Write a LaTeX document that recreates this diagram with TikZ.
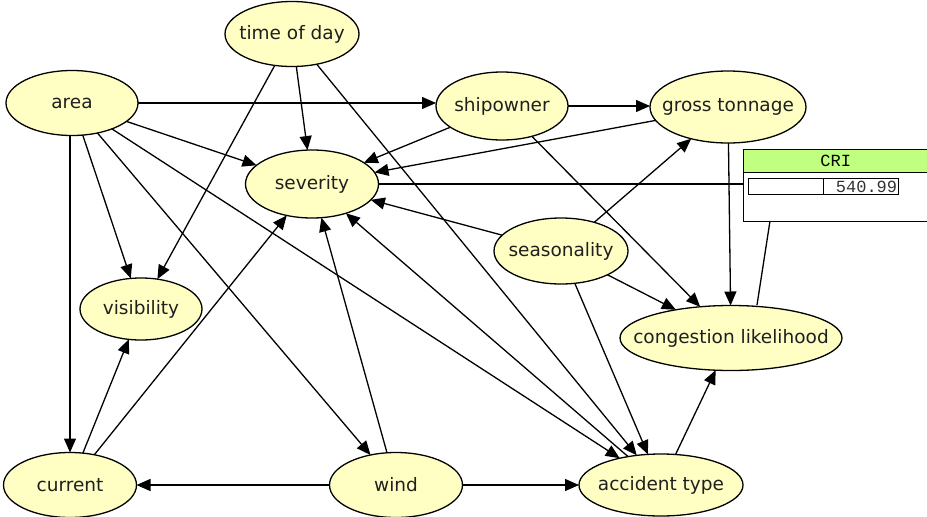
\documentclass[tikz,border=0pt]{standalone}
\usepackage{fontspec}
\setmainfont{DejaVu Sans}
\newfontfamily\crimono{Liberation Mono}
\usetikzlibrary{shapes.geometric,arrows.meta}
\definecolor{nodefill}{RGB}{255,255,196}
\definecolor{crigreen}{RGB}{192,255,128}
\newcommand\nodetxt[1]{\makebox[0pt]{\raisebox{-2pt}{#1}}}
\tikzset{
  bn/.style={ellipse,draw=black,line width=1.3pt,fill=nodefill,inner sep=0pt,outer sep=0pt,
     font=\fontsize{18.5}{19}\selectfont,text=black!88},
  arr/.style={-{Triangle[length=14pt,width=12pt]},line width=1.3pt},
  lnk/.style={line width=1.3pt},
}
\begin{document}
\begin{tikzpicture}[x=1pt,y=-1pt]
\useasboundingbox (0,0) rectangle (927,517);
% nodes
\node[bn,minimum width=134pt,minimum height=65pt] (tod) at (292,34) {\nodetxt{time of day}};
\node[bn,minimum width=132pt,minimum height=65pt] (area) at (72,103) {\nodetxt{area}};
\node[bn,minimum width=133pt,minimum height=68pt] (sev) at (312,184) {\nodetxt{severity}};
\node[bn,minimum width=132pt,minimum height=68pt] (ship) at (502,106) {\nodetxt{shipowner}};
\node[bn,minimum width=156pt,minimum height=72pt] (gross) at (728,107) {\nodetxt{gross tonnage}};
\node[bn,minimum width=134pt,minimum height=66pt] (season) at (561,251) {\nodetxt{seasonality}};
\node[bn,minimum width=222pt,minimum height=65pt] (cong) at (731,338) {\nodetxt{congestion likelihood}};
\node[bn,minimum width=122pt,minimum height=62pt] (vis) at (141,309) {\nodetxt{visibility}};
\node[bn,minimum width=133pt,minimum height=65pt] (cur) at (70,485) {\nodetxt{current}};
\node[bn,minimum width=133pt,minimum height=65pt] (wind) at (396,485) {\nodetxt{wind}};
\node[bn,minimum width=164pt,minimum height=62pt] (acc) at (661,485) {\nodetxt{accident type}};
% CRI monitor box
\node[draw=black,line width=1.3pt,fill=white,minimum width=184pt,minimum height=72pt,
      inner sep=0pt,anchor=north west] (cri) at (743,149) {};
\node[draw=black,line width=1.3pt,fill=crigreen,minimum width=184pt,minimum height=23pt,
      inner sep=0pt,anchor=north west,font=\crimono\fontsize{17}{18}\selectfont] (crih) at (743,149) {CRI};
\node[draw=black,line width=1.3pt,fill=white,minimum width=75pt,minimum height=16pt,
      inner sep=0pt,anchor=north west] (crib) at (748,178) {};
\node[draw=black,line width=1.3pt,fill=white,minimum width=75pt,minimum height=16pt,
      inner sep=1pt,anchor=north west,align=right,text width=72pt,
      font=\crimono\fontsize{17}{16}\selectfont,text=black!80] (crival) at (823,178) {540.99};
\coordinate (crib1) at (770,221);
\coordinate (cong1) at (757,305);
% edges
\draw[arr] (area.east) -- (area.east -| ship.west);
\draw[arr] (area) -- (sev);
\draw[arr] (area) -- (vis);
\draw[arr] (area.south -| cur.north) -- (cur);
\draw[arr] (area) -- (wind);
\draw[arr] (area) -- (acc);
\draw[arr] (tod) -- (sev);
\draw[arr] (tod) -- (vis);
\draw[arr] (tod) -- (acc);
\draw[arr] (ship.east) -- (ship.east -| gross.west);
\draw[arr] (ship) -- (sev);
\draw[arr] (ship) -- (cong);
\draw[arr] (gross) -- (sev);
\draw[arr] (gross) -- (cong);
\draw[arr] (season) -- (gross);
\draw[arr] (season) -- (sev);
\draw[arr] (season) -- (cong);
\draw[arr] (season) -- (acc);
\draw[arr] (cur) -- (vis);
\draw[arr] (cur) -- (sev);
\draw[arr] (wind) -- (cur);
\draw[arr] (wind) -- (sev);
\draw[arr] (wind) -- (acc);
\draw[arr] (acc) -- (sev);
\draw[arr] (acc) -- (cong);
\draw[lnk] (sev.east) -- (sev.east -| cri.west);
\draw[lnk] (crib1) -- (cong1);
\end{tikzpicture}
\end{document}
